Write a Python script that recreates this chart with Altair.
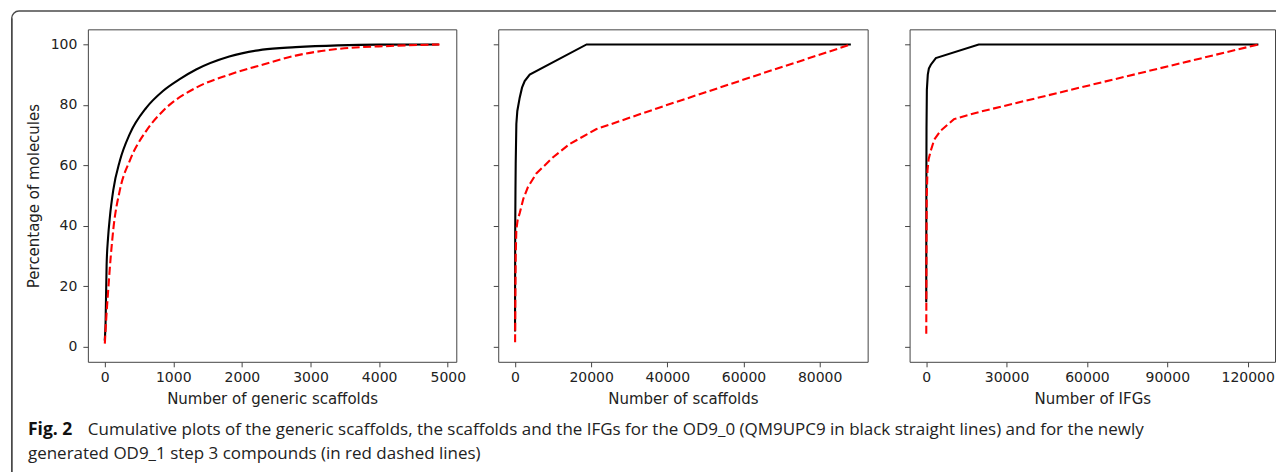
import altair as alt
import pandas as pd

# ---------------- data ----------------
# Panel 1: generic scaffolds
gs_black_x = [1, 14, 29, 50, 77, 126, 222, 367, 609, 850, 1100, 1333, 1816, 2300, 2783, 3400, 4000, 4870]
gs_black_y = [2, 8, 27, 36, 43, 51.8, 61.5, 70.4, 79.1, 84.6, 88.6, 91.7, 96, 98.3, 99.1, 99.7, 99.95, 100]
gs_red_x = [3, 20, 53, 90, 126, 222, 367, 609, 850, 1333, 1816, 2300, 2783, 3435, 4160, 4880]
gs_red_y = [1, 8, 19, 30, 38.7, 51.8, 61.6, 71.5, 78, 85.7, 90, 93.3, 96.3, 98.6, 99.5, 100]

# Panel 2: scaffolds
sc_black_x = [5, 20, 50, 120, 180, 350, 605, 1230, 1840, 2540, 3860, 18800, 88200]
sc_black_y = [5, 20, 38.7, 52, 60.5, 73.7, 78, 82.4, 85.7, 87.9, 90, 100, 100]
sc_red_x = [20, 80, 180, 350, 700, 1230, 2200, 3420, 5600, 10000, 14390, 21400, 37630, 63950, 88200]
sc_red_y = [1.5, 15, 30, 38.7, 42, 44.2, 49, 52.9, 57.3, 62.7, 67.1, 72, 79, 90, 100]

# Panel 3: IFGs
ifg_black_x = [20, 50, 80, 120, 250, 600, 1000, 1730, 3600, 19600, 124000]
ifg_black_y = [14.7, 40, 60, 72, 85, 90, 92, 93.3, 95.5, 100, 100]
ifg_red_x = [30, 100, 200, 490, 900, 1730, 3000, 5430, 10370, 20000, 124000]
ifg_red_y = [4.3, 30, 50, 58.4, 62, 64.9, 68.5, 71.5, 75.3, 77.7, 100]

series_names = ["OD9_0", "OD9_1"]
x_titles = ["Number of generic scaffolds", "Number of scaffolds", "Number of IFGs"]
y_title = "Percentage of molecules"
x_tick_values = [
    [0, 1000, 2000, 3000, 4000, 5000],
    [0, 20000, 40000, 60000, 80000],
    [0, 30000, 60000, 90000, 120000],
]
y_tick_values = [0, 20, 40, 60, 80, 100]

caption_label = "Fig. 2"
caption_line1 = ("Cumulative plots of the generic scaffolds, the scaffolds and the IFGs for the OD9_0 "
                 "(QM9UPC9 in black straight lines) and for the newly")
caption_line2 = "generated OD9_1 step 3 compounds (in red dashed lines)"

# ---------------- chart ----------------
AX_FONT = "DejaVu Sans"
TXT = "#222222"
FRAME = "#444444"
H = 333
WIDTHS = [369, 370, 366]


def make_df(bx, by, rx, ry):
    return pd.DataFrame({
        "x": bx + rx,
        "y": by + ry,
        "series": [series_names[0]] * len(bx) + [series_names[1]] * len(rx),
        "order": list(range(len(bx))) + list(range(len(rx))),
    })


def x_domain(xs):
    lo, hi = 0, max(xs)
    m = 0.05 * (hi - lo)
    return [lo - m, hi + m]


def panel(df, i, interp):
    xs = df["x"].tolist()
    xenc = alt.X(
        "x:Q",
        scale=alt.Scale(domain=x_domain(xs), nice=False, zero=False),
        axis=alt.Axis(values=x_tick_values[i], format="d", title=x_titles[i], labelFlush=False),
    )
    if i == 0:
        yaxis = alt.Axis(values=y_tick_values, title=y_title)
    else:
        yaxis = alt.Axis(values=y_tick_values, labels=False, title=None)
    yenc = alt.Y("y:Q", scale=alt.Scale(domain=[-5, 105], nice=False, zero=False), axis=yaxis)
    base = alt.Chart(df).encode(x=xenc, y=yenc, order="order:Q")
    black = base.transform_filter(alt.datum.series == series_names[0]).mark_line(
        color="black", strokeWidth=2.1, interpolate=interp)
    red = base.transform_filter(alt.datum.series == series_names[1]).mark_line(
        color="red", strokeWidth=2.1, strokeDash=[8, 3.5], interpolate=interp)
    return alt.layer(black, red).properties(width=WIDTHS[i], height=H)


df1 = make_df(gs_black_x, gs_black_y, gs_red_x, gs_red_y)
df2 = make_df(sc_black_x, sc_black_y, sc_red_x, sc_red_y)
df3 = make_df(ifg_black_x, ifg_black_y, ifg_red_x, ifg_red_y)

# left-hand strip: decorative frame of the figure and the caption
# (positions relative to the strip, whose left edge is the figure frame)
BORDER = "#4a4a4a"
one = pd.DataFrame({"k": [0]})
border_left = alt.Chart(one).mark_rect(color=BORDER).encode(
    x=alt.value(0), x2=alt.value(1.6), y=alt.value(-11), y2=alt.value(446))
border_left_rule = alt.Chart(one).mark_rule(color=BORDER, strokeWidth=1.2).encode(
    x=alt.value(0.8), y=alt.value(-11), y2=alt.value(446))
border_top = alt.Chart(one).mark_rect(color=BORDER).encode(
    x=alt.value(8), x2=alt.value(1267), y=alt.value(-19), y2=alt.value(-17.6))
border_corner = alt.Chart(one).mark_arc(color=BORDER).encode(
    x=alt.value(8), y=alt.value(-11), theta=alt.value(4.7124), theta2=alt.value(6.2832),
    radius=alt.value(8), radius2=alt.value(6.6))

CAP_FONT = "Open Sans"
CAP_SIZE = 17
cap_label = alt.Chart(pd.DataFrame({"t": [caption_label]})).mark_text(
    font=CAP_FONT, fontSize=17.5, fontWeight="bold", align="left", baseline="alphabetic", color="#111111"
).encode(text="t:N", x=alt.value(17), y=alt.value(406))
cap_1 = alt.Chart(pd.DataFrame({"t": [caption_line1]})).mark_text(
    font=CAP_FONT, fontSize=CAP_SIZE, align="left", baseline="alphabetic", color="#222222"
).encode(text="t:N", x=alt.value(77), y=alt.value(406))
cap_2 = alt.Chart(pd.DataFrame({"t": [caption_line2]})).mark_text(
    font=CAP_FONT, fontSize=CAP_SIZE, align="left", baseline="alphabetic", color="#222222"
).encode(text="t:N", x=alt.value(17), y=alt.value(430))

strip = alt.layer(border_left, border_left_rule, border_top, border_corner,
                  cap_label, cap_1, cap_2).properties(
    width=1, height=H, view=alt.ViewBackground(stroke="transparent"))

panels = alt.hconcat(panel(df1, 0, "monotone"), panel(df2, 1, "linear"), panel(df3, 2, "linear"),
                     spacing=42, bounds="flush")

chart = alt.hconcat(strip, panels, spacing=76, bounds="flush").properties(
    padding={"left": 2, "top": 1, "right": 0, "bottom": 0},
    background="white",
).configure_view(
    stroke=FRAME, strokeWidth=1
).configure_axis(
    grid=False,
    domain=False,
    ticks=True,
    tickSize=5,
    tickColor=FRAME,
    tickWidth=1,
    labelFont=AX_FONT,
    labelFontSize=14,
    labelColor=TXT,
    titleFont=AX_FONT,
    titleFontSize=15,
    titleFontWeight="normal",
    titleColor=TXT,
).configure_axisX(
    labelPadding=4,
    titlePadding=7
).configure_axisY(
    labelPadding=6,
    titlePadding=9
)

chart.save("out.html", embed_options={"renderer": "svg", "actions": False})
